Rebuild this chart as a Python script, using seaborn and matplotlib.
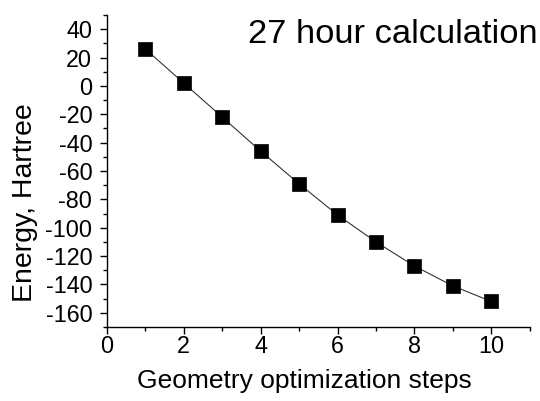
import matplotlib
matplotlib.use("Agg")
import matplotlib.pyplot as plt
import seaborn as sns
import pandas as pd
from matplotlib.ticker import MultipleLocator

steps = [1, 2, 3, 4, 5, 6, 7, 8, 9, 10]
energy = [26, 2, -22, -46, -69, -91, -110, -127, -141, -152]
title_text = "27 hour calculation"
xlabel = "Geometry optimization steps"
ylabel = "Energy, Hartree"

df = pd.DataFrame({"step": steps, "energy": energy})

sns.set_style("ticks")
plt.rcParams['font.family'] = ['Liberation Sans', 'DejaVu Sans']
plt.rcParams['axes.unicode_minus'] = False
plt.rcParams['text.color'] = 'black'
plt.rcParams['axes.labelcolor'] = 'black'

fig = plt.figure(figsize=(5.4, 4.01), dpi=100)
ax = fig.add_axes([0.198, 0.1845, 0.783, 0.778])

sns.lineplot(data=df, x="step", y="energy", ax=ax, color="#333333", linewidth=0.8)
sns.scatterplot(data=df, x="step", y="energy", ax=ax, marker="s", s=105,
                color="black", edgecolor="black", linewidth=0.5, zorder=3)

ax.set_xlim(0, 11)
ax.set_ylim(-170, 50)
ax.xaxis.set_major_locator(MultipleLocator(2))
ax.xaxis.set_minor_locator(MultipleLocator(1))
ax.yaxis.set_major_locator(MultipleLocator(20))
ax.yaxis.set_minor_locator(MultipleLocator(10))
ax.tick_params(which="major", direction="out", length=5, width=1, labelsize=16.8,
               colors="black", labelcolor="black")
ax.tick_params(which="minor", direction="out", length=3, width=1, colors="black")
ax.tick_params(axis="x", which="major", pad=1)
ax.tick_params(axis="y", which="major", pad=5.5)
for s in ["top", "right"]:
    ax.spines[s].set_visible(False)
for s in ["left", "bottom"]:
    ax.spines[s].set_color("black")
    ax.spines[s].set_linewidth(1)

ax.set_xlabel(xlabel, fontsize=19, color="black")
ax.set_ylabel(ylabel, fontsize=20.5, color="black")
ax.xaxis.set_label_coords(0.466, -0.135)
ax.yaxis.set_label_coords(-0.163, 0.40)

fig.text(0.996, 0.953, title_text, ha="right", va="top", fontsize=24.8, color="black")

fig.savefig("out.png", dpi=100)
